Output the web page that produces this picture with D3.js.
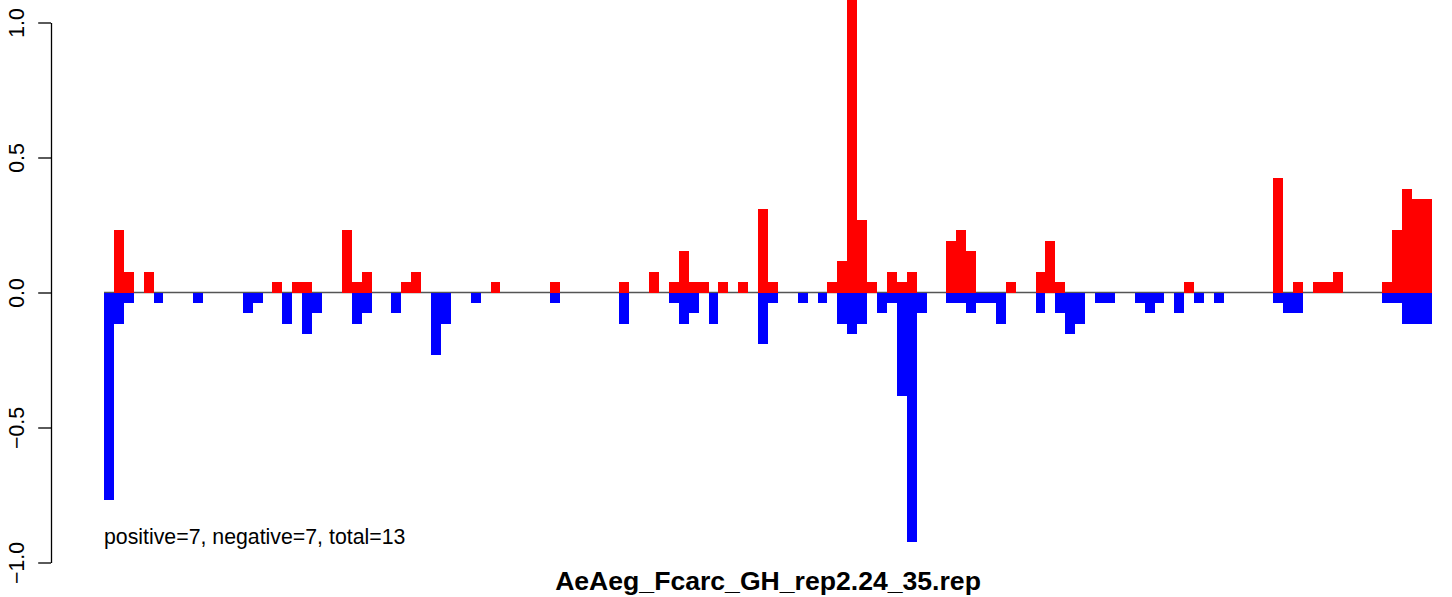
<!DOCTYPE html>
<html>
<head>
<meta charset="utf-8">
<script src="https://cdn.jsdelivr.net/npm/d3@7"></script>
<style>
  html, body { margin: 0; padding: 0; background: #fff; }
  svg { display: block; }
  text { font-family: "Liberation Sans", Arial, Helvetica, sans-serif; }
</style>
</head>
<body>
<svg id="chart" width="1452" height="597"></svg>
<script>
// Per-bin positive fraction (red, above zero)
const positive = [
  0, 0.231, 0.077, 0, 0.077, 0, 0, 0, 0, 0,
  0, 0, 0, 0, 0, 0, 0, 0.038, 0, 0.038,
  0.038, 0, 0, 0, 0.231, 0.038, 0.077, 0, 0, 0,
  0.038, 0.077, 0, 0, 0, 0, 0, 0, 0, 0.038,
  0, 0, 0, 0, 0, 0.038, 0, 0, 0, 0,
  0, 0, 0.038, 0, 0, 0.077, 0, 0.038, 0.154, 0.038,
  0.038, 0, 0.038, 0, 0.038, 0, 0.308, 0.038, 0, 0,
  0, 0, 0, 0.038, 0.115, 1.15, 0.269, 0.038, 0, 0.077,
  0.038, 0.077, 0, 0, 0, 0.192, 0.231, 0.154, 0, 0,
  0, 0.038, 0, 0, 0.077, 0.192, 0.038, 0, 0, 0,
  0, 0, 0, 0, 0, 0, 0, 0, 0, 0.038,
  0, 0, 0, 0, 0, 0, 0, 0, 0.423, 0,
  0.038, 0, 0.038, 0.038, 0.077, 0, 0, 0, 0, 0.038,
  0.231, 0.385, 0.346, 0.346
];
// Per-bin negative fraction (blue, below zero)
const negative = [
  -0.769, -0.115, -0.038, 0, 0, -0.038, 0, 0, 0, -0.038,
  0, 0, 0, 0, -0.077, -0.038, 0, 0, -0.115, 0,
  -0.154, -0.077, 0, 0, 0, -0.115, -0.077, 0, 0, -0.077,
  0, 0, 0, -0.231, -0.115, 0, 0, -0.038, 0, 0,
  0, 0, 0, 0, 0, -0.038, 0, 0, 0, 0,
  0, 0, -0.115, 0, 0, 0, 0, -0.038, -0.115, -0.077,
  0, -0.115, 0, 0, 0, 0, -0.192, -0.038, 0, 0,
  -0.038, 0, -0.038, 0, -0.115, -0.154, -0.115, 0, -0.077, -0.038,
  -0.385, -0.923, -0.077, 0, 0, -0.038, -0.038, -0.077, -0.038, -0.038,
  -0.115, 0, 0, 0, -0.077, 0, -0.077, -0.154, -0.115, 0,
  -0.038, -0.038, 0, 0, -0.038, -0.077, -0.038, 0, -0.077, 0,
  -0.038, 0, -0.038, 0, 0, 0, 0, 0, -0.038, -0.077,
  -0.077, 0, 0, 0, 0, 0, 0, 0, 0, -0.038,
  -0.038, -0.115, -0.115, -0.115
];
const yTicks = [-1.0, -0.5, 0.0, 0.5, 1.0];
const yTickLabels = ["\u22121.0", "\u22120.5", "0.0", "0.5", "1.0"];
const titleText = "AeAeg_Fcarc_GH_rep2.24_35.rep";
const noteText = "positive=7, negative=7, total=13";

const svg = d3.select("#chart");
const n = positive.length;

const x = d3.scaleLinear().domain([0, n]).range([104, 1432]);
const y = d3.scaleLinear().domain([-1, 1]).range([562.5, 22.5]);

svg.append("defs").append("clipPath").attr("id", "plotclip")
  .append("rect").attr("x", 51).attr("y", 0).attr("width", 1452 - 51).attr("height", 585);

const plot = svg.append("g").attr("clip-path", "url(#plotclip)");

// zero line
plot.append("line")
  .attr("x1", x(0)).attr("x2", x(n))
  .attr("y1", y(0)).attr("y2", y(0))
  .attr("stroke", "#555").attr("stroke-width", 1.3);

const idx = d3.range(n);

plot.selectAll("rect.pos").data(idx.filter(i => positive[i] > 0)).join("rect")
  .attr("class", "pos")
  .attr("x", i => x(i))
  .attr("width", i => x(i + 1) - x(i))
  .attr("y", i => y(positive[i]))
  .attr("height", i => y(0) - y(positive[i]))
  .attr("fill", "#FF0000")
  .attr("shape-rendering", "crispEdges");

plot.selectAll("rect.neg").data(idx.filter(i => negative[i] < 0)).join("rect")
  .attr("class", "neg")
  .attr("x", i => x(i))
  .attr("width", i => x(i + 1) - x(i))
  .attr("y", y(0))
  .attr("height", i => y(negative[i]) - y(0))
  .attr("fill", "#0000FF")
  .attr("shape-rendering", "crispEdges");

// y axis
const axis = d3.axisLeft(y)
  .tickValues(yTicks)
  .tickSizeInner(12.8)
  .tickSizeOuter(0)
  .tickFormat((d, i) => yTickLabels[i]);

const gAxis = svg.append("g").attr("transform", "translate(51,0)").call(axis);
gAxis.select(".domain").attr("stroke", "#000").attr("stroke-width", 1.3);
gAxis.selectAll(".tick line").attr("stroke", "#000").attr("stroke-width", 1.3);
gAxis.selectAll(".tick text")
  .attr("x", null).attr("dy", null)
  .attr("transform", "translate(-27,0) rotate(-90)")
  .attr("text-anchor", "middle")
  .attr("fill", "#000")
  .style("font-size", "21.3px")
  .style("font-family", "'Liberation Sans', Arial, sans-serif");

// annotation
svg.append("text")
  .attr("x", 104).attr("y", 544)
  .style("font-size", "21.3px")
  .attr("fill", "#000")
  .text(noteText);

// title
svg.append("text")
  .attr("x", 768).attr("y", 590)
  .attr("text-anchor", "middle")
  .style("font-size", "26.6px")
  .style("font-weight", "bold")
  .attr("fill", "#000")
  .text(titleText);
</script>
</body>
</html>
